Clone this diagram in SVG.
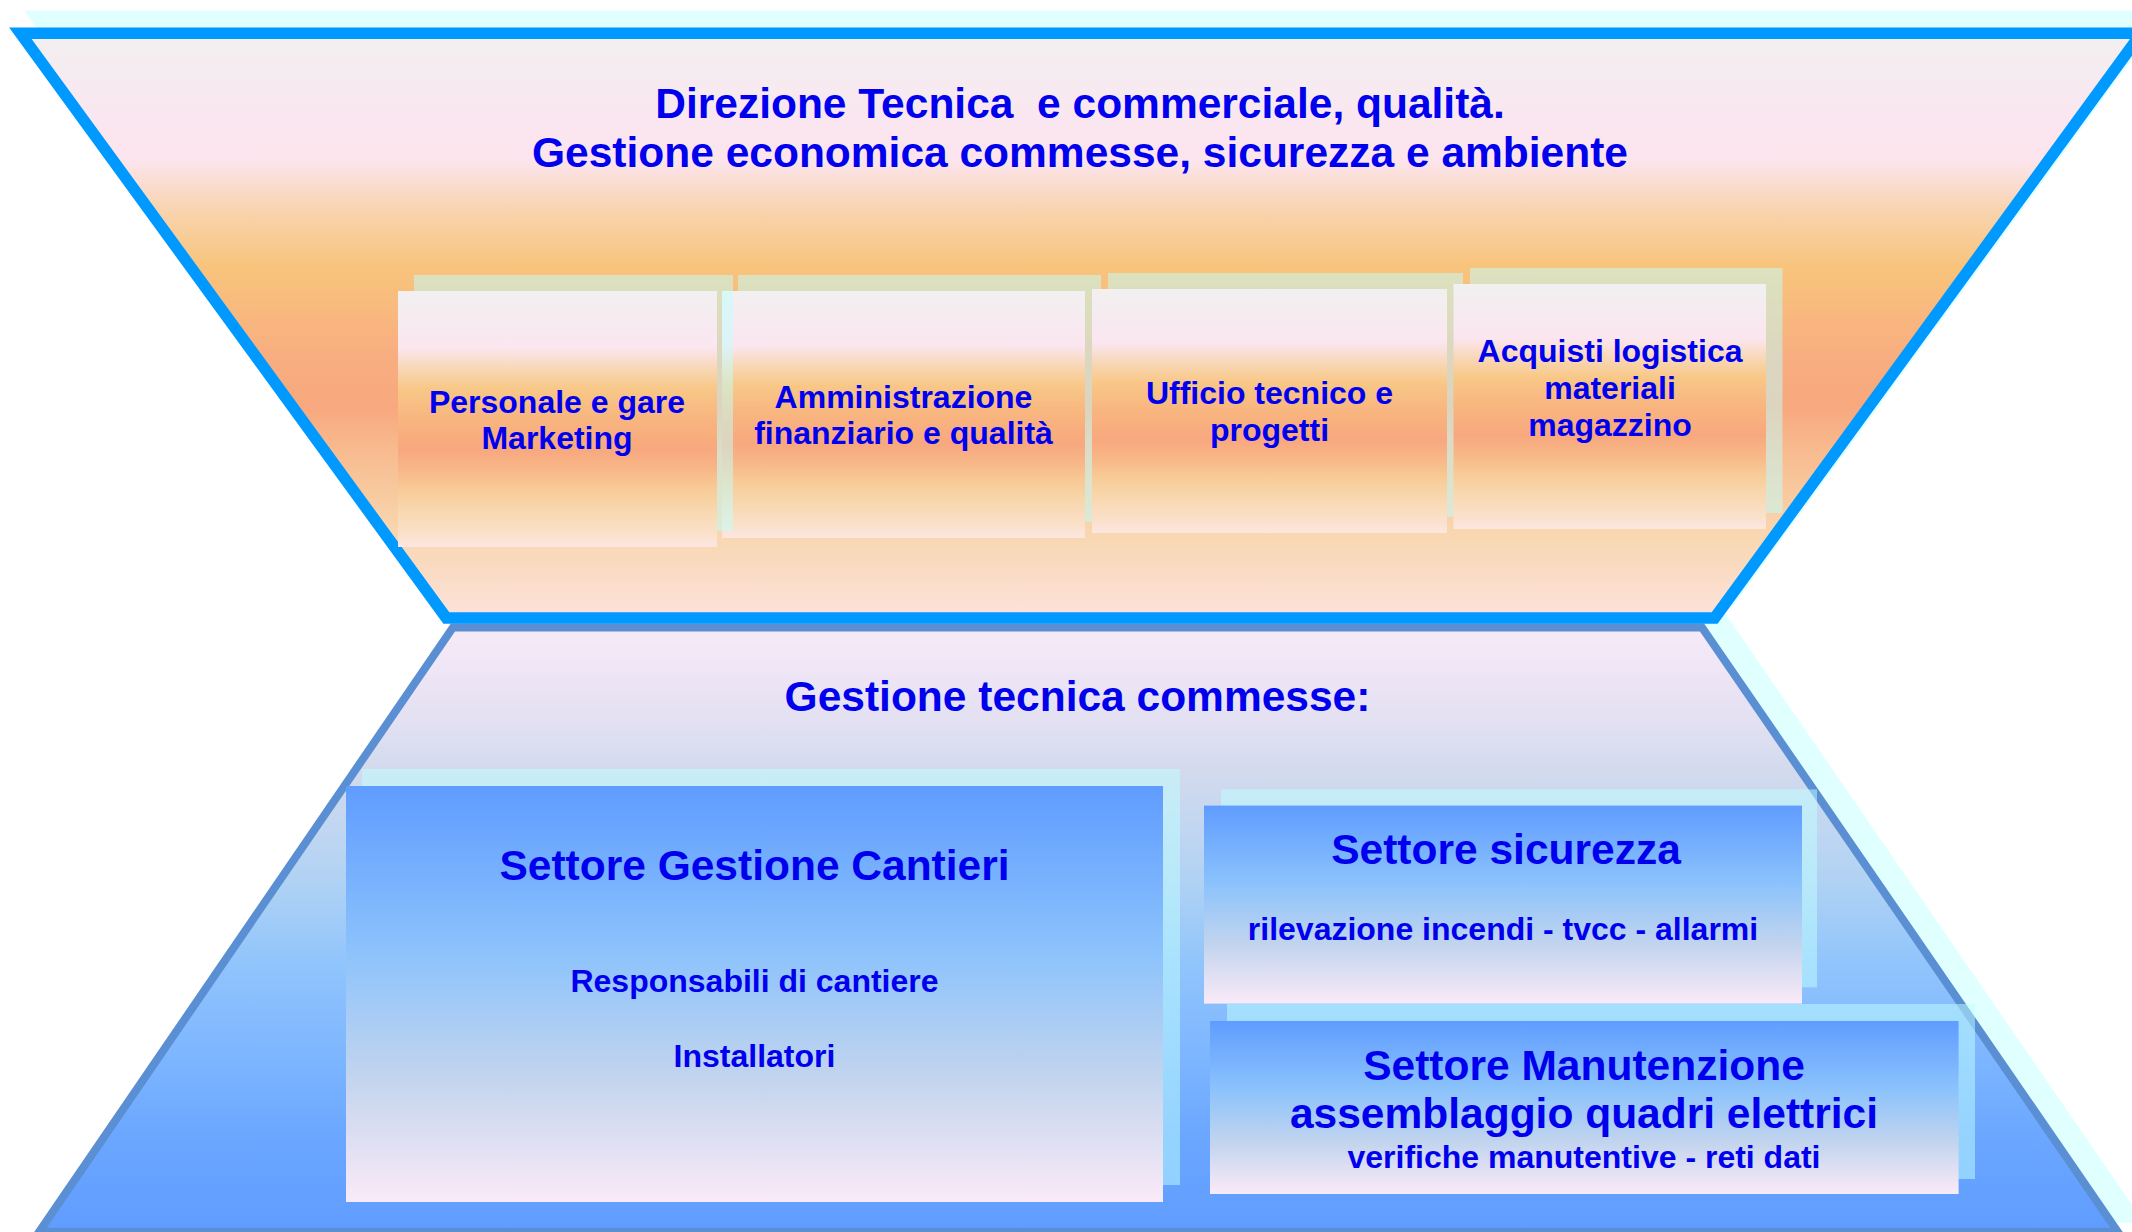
<svg xmlns="http://www.w3.org/2000/svg" width="2132" height="1232" viewBox="0 0 2132 1232">
<style>
text{font-family:"Liberation Sans",Arial,sans-serif;font-weight:bold;fill:#0000EE;text-anchor:middle}
.t{font-size:42.5px}
.s{font-size:32px}
.sh{fill:#C0FFFF;fill-opacity:0.5}
.pk{fill:url(#peachBox)}
.bl{fill:url(#blueBox)}
</style>
<defs>
<linearGradient id="peachTrap" x1="0" y1="0" x2="0" y2="1">
<stop offset="0" stop-color="#F2F0F0"/>
<stop offset="0.15" stop-color="#FAE6F0"/>
<stop offset="0.22" stop-color="#FCE4EC"/>
<stop offset="0.3" stop-color="#F8D4B0"/>
<stop offset="0.4" stop-color="#F8C47C"/>
<stop offset="0.55" stop-color="#F8AE80"/>
<stop offset="0.64" stop-color="#F8A87E"/>
<stop offset="0.72" stop-color="#F8BC90"/>
<stop offset="0.85" stop-color="#F8D6AE"/>
<stop offset="1" stop-color="#FCE2DC"/>
</linearGradient>
<linearGradient id="peachBox" x1="0" y1="0" x2="0" y2="1">
<stop offset="0" stop-color="#F2F0F0"/>
<stop offset="0.14" stop-color="#F7EAF0"/>
<stop offset="0.22" stop-color="#FBE6F0"/>
<stop offset="0.3" stop-color="#F8D8B8"/>
<stop offset="0.38" stop-color="#F8C888"/>
<stop offset="0.5" stop-color="#F8B57F"/>
<stop offset="0.62" stop-color="#F8A87E"/>
<stop offset="0.7" stop-color="#F8B888"/>
<stop offset="0.78" stop-color="#F8CC98"/>
<stop offset="0.86" stop-color="#F8D8B0"/>
<stop offset="0.94" stop-color="#FAE0C8"/>
<stop offset="1" stop-color="#FCE6E0"/>
</linearGradient>
<linearGradient id="blueTrap" x1="0" y1="0" x2="0" y2="1">
<stop offset="0" stop-color="#F8EAF8"/>
<stop offset="0.16" stop-color="#E2E0F2"/>
<stop offset="0.24" stop-color="#D2DAEE"/>
<stop offset="0.42" stop-color="#B0D2F4"/>
<stop offset="0.56" stop-color="#90C4FC"/>
<stop offset="0.69" stop-color="#80B8FF"/>
<stop offset="0.83" stop-color="#6CA8FF"/>
<stop offset="1" stop-color="#5F9CFF"/>
</linearGradient>
<linearGradient id="blueBox" x1="0" y1="0" x2="0" y2="1">
<stop offset="0" stop-color="#5F9CFF"/>
<stop offset="0.4" stop-color="#8CC3FC"/>
<stop offset="0.7" stop-color="#C2D4EE"/>
<stop offset="1" stop-color="#FAEAF8"/>
</linearGradient>
</defs>

<g id="shadows">
<polygon points="471.9,614.5 1721,614.5 2136.7,1218.7 58.2,1218.7" fill="#E0FFFF" stroke="#E0FFFF" stroke-width="8"/>
<polygon points="35.4,16.3 2156.3,16.3 1729.7,601 461.3,601" fill="#E0FFFF" stroke="#E0FFFF" stroke-width="11.5"/>
</g>

<g id="lower-section">
<polygon points="452.9,627.5 1702,627.5 2117.7,1231.7 39.2,1231.7" fill="url(#blueTrap)" stroke="#5B8FD3" stroke-width="8"/>
<text class="t" x="1077.5" y="711">Gestione tecnica commesse:</text>
</g>

<g id="top-section">
<polygon points="20.4,33.3 2141.3,33.3 1714.7,618 446.3,618" fill="url(#peachTrap)" stroke="#0099FF" stroke-width="11.5"/>
<text class="t" x="1080" y="118" style="white-space:pre">Direzione Tecnica  e commerciale, qualità.</text>
<text class="t" x="1080" y="167">Gestione economica commesse, sicurezza e ambiente</text>
</g>

<g id="amministrazione">
<rect class="sh" x="738" y="275" width="363" height="247"/>
<rect class="pk" x="722" y="291" width="363" height="247"/>
<text class="s" x="903.5" y="408">Amministrazione</text>
<text class="s" x="903.5" y="444">finanziario e qualità</text>
</g>

<g id="personale">
<rect class="sh" x="414" y="275" width="319" height="256"/>
<rect class="pk" x="398" y="291" width="319" height="256"/>
<text class="s" x="557" y="413">Personale e gare</text>
<text class="s" x="557" y="449">Marketing</text>
</g>

<g id="ufficio-tecnico">
<rect class="sh" x="1108" y="273" width="355" height="244"/>
<rect class="pk" x="1092" y="289" width="355" height="244"/>
<text class="s" x="1269.5" y="404">Ufficio tecnico e</text>
<text class="s" x="1269.5" y="441">progetti</text>
</g>

<g id="acquisti">
<rect class="sh" x="1470" y="268" width="312.5" height="245"/>
<rect class="pk" x="1453.5" y="284" width="312.5" height="245"/>
<text class="s" x="1610" y="362.4">Acquisti logistica</text>
<text class="s" x="1610" y="399">materiali</text>
<text class="s" x="1610" y="436">magazzino</text>
</g>

<g id="cantieri">
<rect class="sh" x="362" y="769" width="818" height="416"/>
<rect class="bl" x="346" y="786" width="817" height="416"/>
<text class="t" x="754.5" y="880">Settore Gestione Cantieri</text>
<text class="s" x="754.5" y="992">Responsabili di cantiere</text>
<text class="s" x="754.5" y="1067">Installatori</text>
</g>

<g id="sicurezza">
<rect class="sh" x="1221" y="789.4" width="596" height="198"/>
<rect class="bl" x="1204" y="805.6" width="598" height="198"/>
<text class="t" x="1506" y="864">Settore sicurezza</text>
<text class="s" x="1503" y="940">rilevazione incendi - tvcc - allarmi</text>
</g>

<g id="manutenzione">
<rect class="sh" x="1227" y="1004" width="748" height="175"/>
<rect class="bl" x="1210" y="1021" width="748.6" height="173"/>
<text class="t" x="1584" y="1080">Settore Manutenzione</text>
<text class="t" x="1584" y="1128">assemblaggio quadri elettrici</text>
<text class="s" x="1584" y="1167.5">verifiche manutentive - reti dati</text>
</g>

<g id="connectors"/>
</svg>
